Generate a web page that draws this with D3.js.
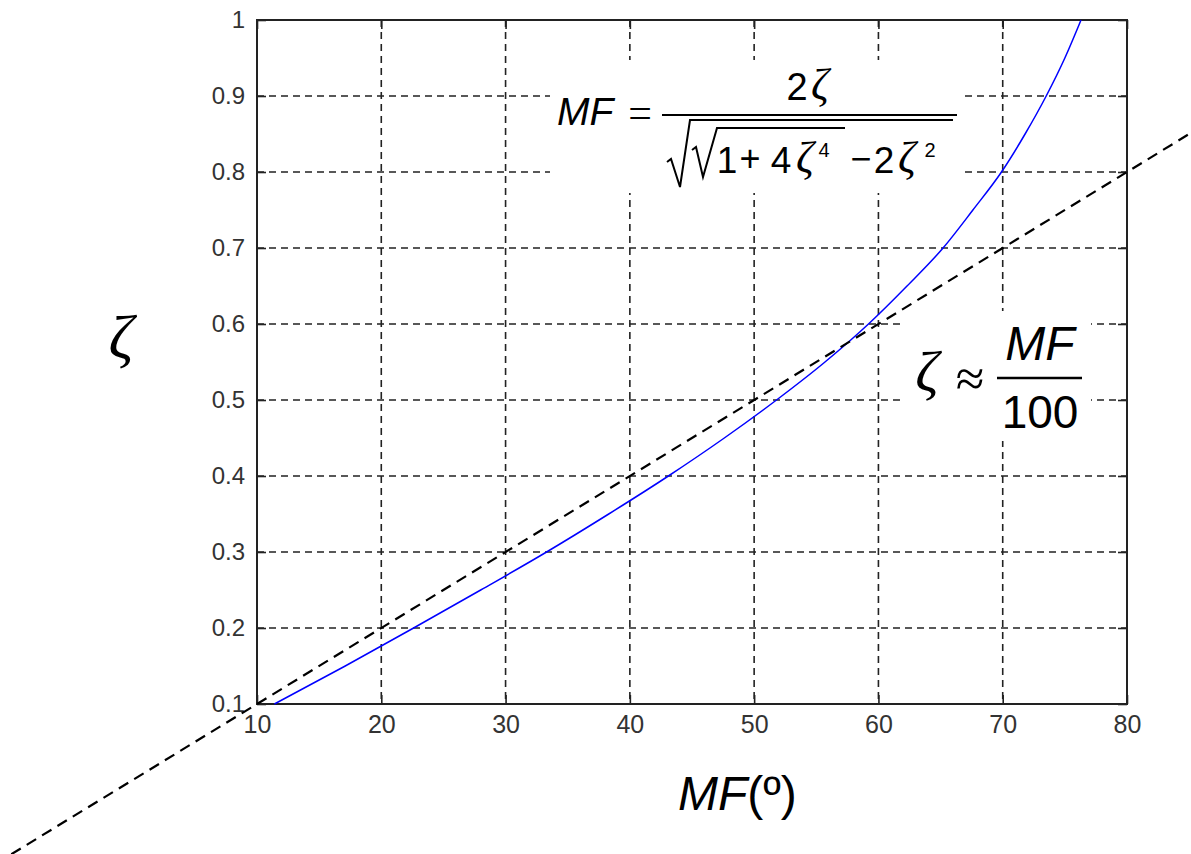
<!DOCTYPE html>
<html>
<head>
<meta charset="utf-8">
<script src="https://cdn.jsdelivr.net/npm/d3@7"></script>
<style>
  html, body { margin: 0; padding: 0; background: #fff; }
  svg { display: block; }
</style>
</head>
<body>
<svg id="chart" width="1191" height="854"></svg>
<script>
// Damping ratio vs. phase margin (MF, degrees)
const zetaValues = [0.1, 0.15, 0.2, 0.25, 0.3, 0.35, 0.4, 0.45, 0.5, 0.55, 0.6, 0.65, 0.7, 0.75, 0.8, 0.85, 0.9, 0.95, 1.0];
const mfValues   = [11.4, 17.1, 22.6, 28.0, 33.3, 38.3, 43.1, 47.6, 51.8, 55.7, 59.2, 62.3, 65.2, 67.6, 69.9, 71.8, 73.5, 75.0, 76.3];

// Rule of thumb ζ ≈ MF/100 (straight line, end points)
const approxMF   = [-11, 86];
const approxZeta = [-0.11, 0.86];

// Axis ticks
const xTicks = [10, 20, 30, 40, 50, 60, 70, 80];
const yTicks = [0.1, 0.2, 0.3, 0.4, 0.5, 0.6, 0.7, 0.8, 0.9, 1];
const yTickLabels = ["0.1", "0.2", "0.3", "0.4", "0.5", "0.6", "0.7", "0.8", "0.9", "1"];

const svg = d3.select("#chart");
const W = 1191, H = 854;
const plot = { left: 257, right: 1127, top: 20, bottom: 704 };

const x = d3.scaleLinear().domain([10, 80]).range([plot.left, plot.right]);
const y = d3.scaleLinear().domain([0.1, 1]).range([plot.bottom, plot.top]);

svg.append("rect").attr("width", W).attr("height", H).attr("fill", "#fff");

const ink = "#222";

// Grid
const grid = svg.append("g").attr("stroke", ink).attr("stroke-width", 1.6)
  .attr("stroke-dasharray", "7,5");
grid.selectAll("line.v").data(xTicks.slice(1, -1)).join("line")
  .attr("x1", d => x(d)).attr("x2", d => x(d))
  .attr("y1", plot.top).attr("y2", plot.bottom);
grid.selectAll("line.h").data(yTicks.slice(1, -1)).join("line")
  .attr("class", "h")
  .attr("y1", d => y(d)).attr("y2", d => y(d))
  .attr("x1", plot.left).attr("x2", plot.right);

// Axes (tick labels; inward ticks on all four sides)
const tickLen = 9;
const font = "'Liberation Sans', Arial, Helvetica, sans-serif";

const xAxisB = d3.axisBottom(x).tickValues(xTicks).tickSize(-tickLen).tickPadding(14);
const xAxisT = d3.axisTop(x).tickValues(xTicks).tickSize(-tickLen).tickFormat("");
const yAxisL = d3.axisLeft(y).tickValues(yTicks).tickSize(-tickLen).tickPadding(12)
  .tickFormat((d, i) => yTickLabels[i]);
const yAxisR = d3.axisRight(y).tickValues(yTicks).tickSize(-tickLen).tickFormat("");

function styleAxis(g) {
  g.select(".domain").remove();
  g.selectAll(".tick line").attr("stroke", ink).attr("stroke-width", 1.6);
  g.selectAll(".tick text").attr("fill", "#333").attr("font-family", font).attr("font-size", 24);
}
svg.append("g").attr("transform", `translate(0,${plot.bottom})`).call(xAxisB).call(styleAxis)
  .selectAll(".tick text").attr("dy", "0.71em").attr("y", 11).attr("font-size", 25);
svg.append("g").attr("transform", `translate(0,${plot.top})`).call(xAxisT).call(styleAxis);
svg.append("g").attr("transform", `translate(${plot.left},0)`).call(yAxisL).call(styleAxis);
svg.append("g").attr("transform", `translate(${plot.right},0)`).call(yAxisR).call(styleAxis);

// Plot box
svg.append("rect")
  .attr("x", plot.left).attr("y", plot.top)
  .attr("width", plot.right - plot.left).attr("height", plot.bottom - plot.top)
  .attr("fill", "none").attr("stroke", ink).attr("stroke-width", 2);

// Exact relation curve
const curve = zetaValues.map((z, i) => [mfValues[i], z]);
svg.append("path")
  .datum(curve)
  .attr("fill", "none").attr("stroke", "#0000ff").attr("stroke-width", 1.5)
  .attr("d", d3.line().x(d => x(d[0])).y(d => y(d[1])).curve(d3.curveMonotoneX));

// Approximation line
const approx = approxMF.map((m, i) => [m, approxZeta[i]]);
svg.append("path")
  .datum(approx)
  .attr("fill", "none").attr("stroke", "#000").attr("stroke-width", 2.2)
  .attr("stroke-dasharray", "11,7")
  .attr("d", d3.line().x(d => x(d[0])).y(d => y(d[1])));

// ---- Formula boxes ----
const sans = font;
const serif = "'Liberation Serif', 'Times New Roman', serif";

// MF = 2ζ / sqrt( sqrt(1+4ζ^4) − 2ζ^2 )
const f1 = svg.append("g");
f1.append("rect").attr("x", 550).attr("y", 60).attr("width", 413).attr("height", 133).attr("fill", "#fff");
f1.append("text").attr("x", 557).attr("y", 125).attr("font-family", sans).attr("font-style", "italic")
  .attr("font-size", 39).attr("fill", "#000").text("MF");
f1.append("text").attr("x", 640).attr("y", 127).attr("text-anchor", "middle").attr("font-family", serif)
  .attr("font-size", 42).attr("fill", "#000").text("=");
f1.append("line").attr("x1", 662).attr("x2", 957).attr("y1", 115).attr("y2", 115)
  .attr("stroke", "#000").attr("stroke-width", 2);
// numerator
f1.append("text").attr("x", 797).attr("y", 100).attr("text-anchor", "middle").attr("font-family", sans)
  .attr("font-size", 38).attr("fill", "#000").text("2");
f1.append("text").attr("x", 820).attr("y", 99).attr("text-anchor", "middle").attr("font-family", serif)
  .attr("font-style", "italic").attr("font-size", 44).attr("fill", "#000").text("ζ");
// radicals
f1.append("path").attr("d", "M667,162 L671,159 L680,187 L690,120 L953,120")
  .attr("fill", "none").attr("stroke", "#000").attr("stroke-width", 2);
f1.append("path").attr("d", "M692,150 L696,147 L703,177 L717,128 L845,128")
  .attr("fill", "none").attr("stroke", "#000").attr("stroke-width", 2);
// denominator pieces
const den = [
  { t: "1", cx: 727, fam: sans, it: false, fs: 37, y: 173 },
  { t: "+", cx: 750, fam: sans, it: false, fs: 36, y: 171 },
  { t: "4", cx: 781, fam: sans, it: false, fs: 37, y: 173 },
  { t: "ζ", cx: 805, fam: serif, it: true, fs: 44, y: 172 },
  { t: "4", cx: 824, fam: sans, it: false, fs: 20, y: 157 },
  { t: "−", cx: 861, fam: sans, it: false, fs: 36, y: 171 },
  { t: "2", cx: 884, fam: sans, it: false, fs: 37, y: 173 },
  { t: "ζ", cx: 907, fam: serif, it: true, fs: 44, y: 172 },
  { t: "2", cx: 930, fam: sans, it: false, fs: 20, y: 157 }
];
f1.selectAll("text.den").data(den).join("text").attr("class", "den")
  .attr("x", d => d.cx).attr("y", d => d.y).attr("text-anchor", "middle")
  .attr("font-family", d => d.fam).attr("font-style", d => d.it ? "italic" : "normal")
  .attr("font-size", d => d.fs).attr("fill", "#000").text(d => d.t);

// ζ ≈ MF/100
const f2 = svg.append("g");
f2.append("rect").attr("x", 901).attr("y", 311).attr("width", 190).attr("height", 130).attr("fill", "#fff");
f2.append("text").attr("x", 927).attr("y", 391).attr("text-anchor", "middle").attr("font-family", serif)
  .attr("font-style", "italic").attr("font-size", 58).attr("fill", "#000").text("ζ");
f2.append("text").attr("x", 970).attr("y", 396).attr("text-anchor", "middle").attr("font-family", serif)
  .attr("font-size", 52).attr("fill", "#000").text("≈");
f2.append("line").attr("x1", 997).attr("x2", 1082).attr("y1", 378).attr("y2", 378)
  .attr("stroke", "#000").attr("stroke-width", 2.5);
f2.append("text").attr("x", 1040).attr("y", 360).attr("text-anchor", "middle").attr("font-family", sans)
  .attr("font-style", "italic").attr("font-size", 48).attr("fill", "#000").text("MF");
f2.append("text").attr("x", 1040).attr("y", 428).attr("text-anchor", "middle").attr("font-family", sans)
  .attr("font-size", 46).attr("fill", "#000").text("100");

// Axis titles
svg.append("text").attr("x", 121).attr("y", 358).attr("text-anchor", "middle").attr("font-family", serif)
  .attr("font-style", "italic").attr("font-size", 62).attr("fill", "#000").text("ζ");
const xt = svg.append("text").attr("x", 678).attr("y", 810).attr("font-family", sans)
  .attr("font-size", 48).attr("fill", "#000");
xt.append("tspan").attr("font-style", "italic").text("MF");
xt.append("tspan").text("(º)");
</script>
</body>
</html>
